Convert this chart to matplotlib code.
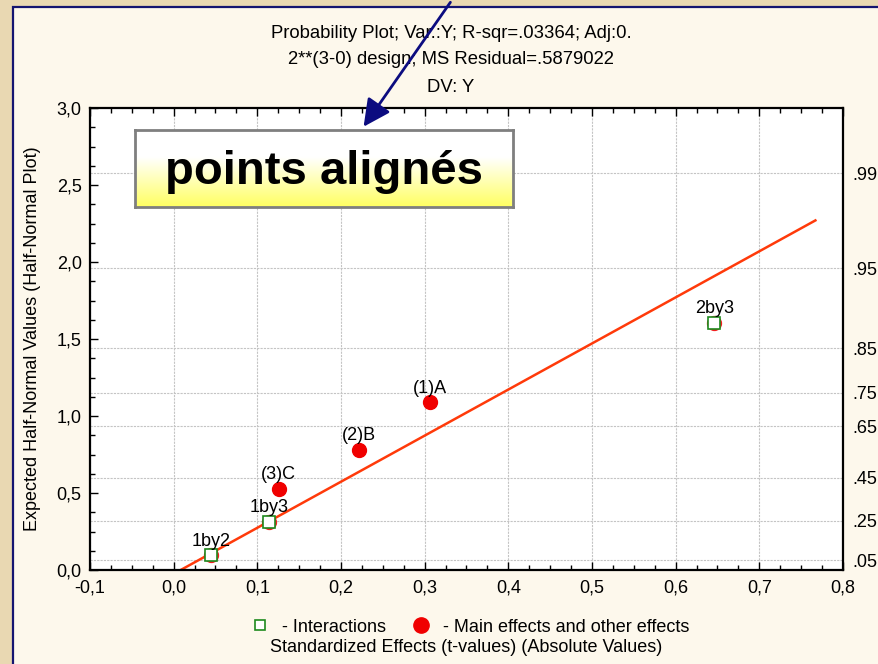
import matplotlib.pyplot as plt
import numpy as np
from matplotlib.lines import Line2D
from matplotlib.patches import Rectangle, FancyArrowPatch
from statistics import NormalDist

plt.rcParams['font.family'] = ['Liberation Sans', 'DejaVu Sans']

# effects (absolute t-values) and their expected half-normal values
inter_names = ['1by2', '1by3', '2by3']
inter_t = [0.045, 0.1135, 0.646]
inter_hn = [0.097, 0.312, 1.604]

main_names = ['(3)C', '(2)B', '(1)A']
main_t = [0.1254, 0.221, 0.306]
main_hn = [0.526, 0.779, 1.09]

# fitted line end points
fit_t = [0.0084, 0.767]
fit_hn = [0.0, 2.27]

# right-hand probability scale
probs = [0.05, 0.25, 0.45, 0.65, 0.75, 0.85, 0.95, 0.99]
prob_labels = ['.05', '.25', '.45', '.65', '.75', '.85', '.95', '.99']
prob_q = [NormalDist().inv_cdf((1 + p) / 2) for p in probs]

xticks = np.arange(-0.1, 0.81, 0.1)
yticks = np.arange(0, 3.01, 0.5)

FS = 13
W, H = 879, 664
fig = plt.figure(figsize=(W / 100, H / 100), dpi=100)
fig.patch.set_facecolor('#e9d8b2')

# cream panel with navy border
panel = Rectangle((13 / W, -0.05), 1.1, 1.05 - 7 / H,
                  transform=fig.transFigure, facecolor='#fdf8ec',
                  edgecolor='#141470', linewidth=1.6, zorder=-10)
fig.patches.append(panel)

ax = fig.add_axes([90 / W, 1 - 570 / H, (843 - 90) / W, (570 - 108) / H])
ax.set_facecolor('white')
ax.set_xlim(-0.1, 0.8)
ax.set_ylim(0, 3.0)

ax.set_xticks(xticks)
ax.set_xticklabels([f'{v:.1f}'.replace('.', ',').replace('-0,0', '0,0') for v in xticks])
ax.set_yticks(yticks)
ax.set_yticklabels([f'{v:.1f}'.replace('.', ',') for v in yticks])
ax.set_xticks(np.arange(-0.1, 0.8, 0.025), minor=True)
ax.set_yticks(np.arange(0, 3.0, 0.125), minor=True)
ax.tick_params(which='both', direction='in', top=True, right=True,
               labelsize=FS, colors='black', width=1)
ax.tick_params(which='major', length=6)
ax.tick_params(which='minor', length=3.5)
ax.tick_params(axis='x', pad=7)
ax.tick_params(axis='y', pad=6)
for s in ax.spines.values():
    s.set_linewidth(1.6)

ax.grid(axis='x', color='#c4c4c4', linestyle=(0, (2, 1)), linewidth=0.8)
for q in prob_q:
    ax.axhline(q, color='#c4c4c4', linestyle=(0, (2, 1)), linewidth=0.8, zorder=0.5)
ax.set_axisbelow(True)

ax2 = ax.twinx()
ax2.set_ylim(ax.get_ylim())
ax2.set_yticks(prob_q)
ax2.set_yticklabels(prob_labels)
ax2.tick_params(length=0, pad=7, labelsize=FS)
for s in ax2.spines.values():
    s.set_visible(False)

ax.plot(fit_t, fit_hn, color='#ff3a0a', linewidth=1.8, zorder=2)

ax.plot(inter_t, inter_hn, linestyle='none', marker='o', markersize=10,
        color='#f22020', zorder=3)
ax.plot(inter_t, inter_hn, linestyle='none', marker='s', markersize=8,
        markerfacecolor='white', markeredgecolor='#1e8a1e', markeredgewidth=1.2, zorder=4)
ax.plot(main_t, main_hn, linestyle='none', marker='o', markersize=10,
        color='#f00000', zorder=4)

for name, t, v in zip(inter_names + main_names, inter_t + main_t, inter_hn + main_hn):
    ax.annotate(name, (t, v), xytext=(0, 4), textcoords='offset points',
                ha='center', va='bottom', fontsize=FS, zorder=5)

ax.set_ylabel('Expected Half-Normal Values (Half-Normal Plot)', fontsize=FS, labelpad=11)

# titles
fig.text(451 / W, 1 - 34 / H, 'Probability Plot; Var.:Y; R-sqr=.03364; Adj:0.',
         ha='center', va='center', fontsize=13.3)
fig.text(451 / W, 1 - 60 / H, '2**(3-0) design; MS Residual=.5879022',
         ha='center', va='center', fontsize=13.3)
fig.text(451 / W, 1 - 87 / H, 'DV: Y', ha='center', va='center', fontsize=13.3)

# legend and x label
handles = [Line2D([], [], linestyle='none', marker='s', markersize=7,
                  markerfacecolor='white', markeredgecolor='#1e8a1e', markeredgewidth=1.2),
           Line2D([], [], linestyle='none', marker='o', markersize=11, color='#f00000')]
fig.legend(handles, ['- Interactions', '- Main effects and other effects'],
           loc='center', bbox_to_anchor=(470 / W, 1 - 627 / H), ncol=2,
           frameon=False, fontsize=FS, handlelength=1.0, handletextpad=0.7,
           columnspacing=1.45)
fig.text(466 / W, 1 - 648 / H, 'Standardized Effects (t-values) (Absolute Values)',
         ha='center', va='center', fontsize=FS)

# callout box with white-to-yellow gradient
bx0, by0, bx1, by1 = 135 / W, 1 - 207 / H, 513 / W, 1 - 130 / H
grad = np.linspace(0, 1, 256)
grad = np.clip((grad - 0.35) / 0.65, 0, 1)
img = np.ones((256, 1, 3))
img[:, 0, 2] = 1 - 0.62 * grad
gax = fig.add_axes([bx0, by0, bx1 - bx0, by1 - by0])
gax.imshow(img, aspect='auto', origin='upper', extent=[0, 1, 0, 1])
gax.set_xticks([])
gax.set_yticks([])
for s in gax.spines.values():
    s.set_color('#7f7f7f')
    s.set_linewidth(2)
gax.text(0.5, 0.45, 'points alignés', ha='center', va='center',
         fontsize=34, fontweight='bold', transform=gax.transAxes)

# arrow pointing at the box
fig.patches.append(FancyArrowPatch(
    (452 / W, 1.0), (362 / W, 1 - 129 / H), transform=fig.transFigure,
    arrowstyle='-|>,head_length=11,head_width=5.5', color='#0c0c80',
    linewidth=2, mutation_scale=1.5, zorder=10))

fig.savefig('out.png', dpi=100, facecolor=fig.get_facecolor())
